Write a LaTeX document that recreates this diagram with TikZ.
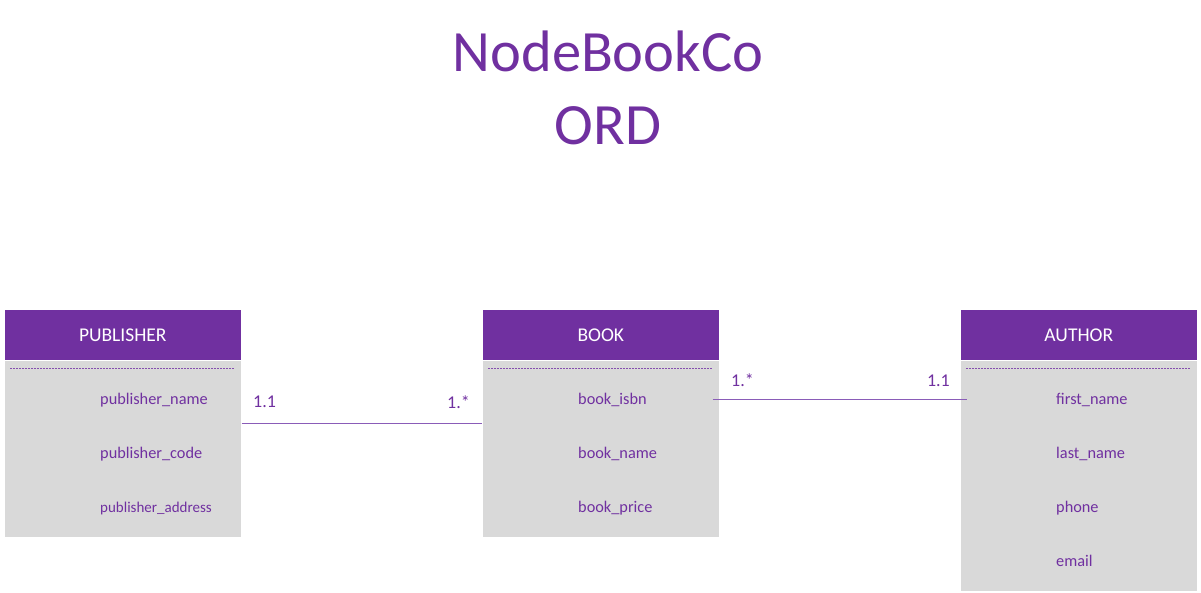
\documentclass[tikz,border=0pt]{standalone}
\usepackage{fontspec}
\setmainfont{Carlito}
\definecolor{ordpurple}{HTML}{7030A0}
\definecolor{ordgrey}{HTML}{D9D9D9}
\definecolor{ordline}{HTML}{8A5CB8}
\tikzset{
  headbox/.style={draw=white, line width=0.6pt, fill=ordpurple, text=white, anchor=north west, inner sep=0pt,
    minimum width=237pt, minimum height=51pt, font=\fontsize{19.5}{22}\selectfont},
  bodybox/.style={draw=white, line width=0.6pt, fill=ordgrey, anchor=north west, inner sep=0pt, minimum width=237pt},
  attr/.style={anchor=base west, inner sep=0pt, text=ordpurple, font=\fontsize{16.3}{18}\selectfont},
  attrsmall/.style={attr, font=\fontsize{15}{17}\selectfont},
  sep/.style={draw=ordpurple!85, line width=0.9pt, dash pattern=on 2pt off 1pt},
  conn/.style={draw=ordline, line width=1pt},
  card/.style={inner sep=0pt, text=ordpurple, font=\fontsize{18}{20}\selectfont},
  titletext/.style={anchor=base, inner sep=0pt, text=ordpurple, font=\fontsize{58.5}{64}\selectfont}
}
\begin{document}
\begin{tikzpicture}[x=1pt, y=-1pt]
\useasboundingbox (0,0) rectangle (1201,593);
\node[titletext] (t1) at (608,72) {NodeBookCo};
\node[titletext] (t2) at (608,145) {ORD};
% Publisher
\node[bodybox, minimum height=177pt] (pubbody) at (4,360) {};
\node[headbox] (pubhead) at (4,309) {PUBLISHER};
\draw[sep] (10,368) -- (234,368);
\node[attr] (p1) at (100,404) {publisher\_name};
\node[attr] (p2) at (100,458) {publisher\_code};
\node[attrsmall] (p3) at (100,512) {publisher\_address};
% Book
\node[bodybox, minimum height=177pt] (bookbody) at (482,360) {};
\node[headbox] (bookhead) at (482,309) {BOOK};
\draw[sep] (488,368) -- (712,368);
\node[attr] (b1) at (578,404) {book\_isbn};
\node[attr] (b2) at (578,458) {book\_name};
\node[attr] (b3) at (578,512) {book\_price};
% Author
\node[bodybox, minimum height=231pt] (authbody) at (960,360) {};
\node[headbox] (authhead) at (960,309) {AUTHOR};
\draw[sep] (966,368) -- (1190,368);
\node[attr] (a1) at (1056,404) {first\_name};
\node[attr] (a2) at (1056,458) {last\_name};
\node[attr] (a3) at (1056,512) {phone};
\node[attr] (a4) at (1056,566) {email};
% Connectors
\draw[conn] ([yshift=25pt]pubbody.east) -- ([yshift=25pt]bookbody.west);
\coordinate (l2s) at ([xshift=-7pt,yshift=49pt]bookbody.east);
\coordinate (l2e) at ([xshift=7pt]authbody.west |- l2s);
\draw[conn] (l2s) -- (l2e);
\node[card, anchor=base west] (c1) at (253,407) {1.1};
\node[card, anchor=base east] (c2) at (470,408) {1.*};
\node[card, anchor=base west] (c3) at (731,386) {1.*};
\node[card, anchor=base east] (c4) at (950,386) {1.1};
\end{tikzpicture}
\end{document}
